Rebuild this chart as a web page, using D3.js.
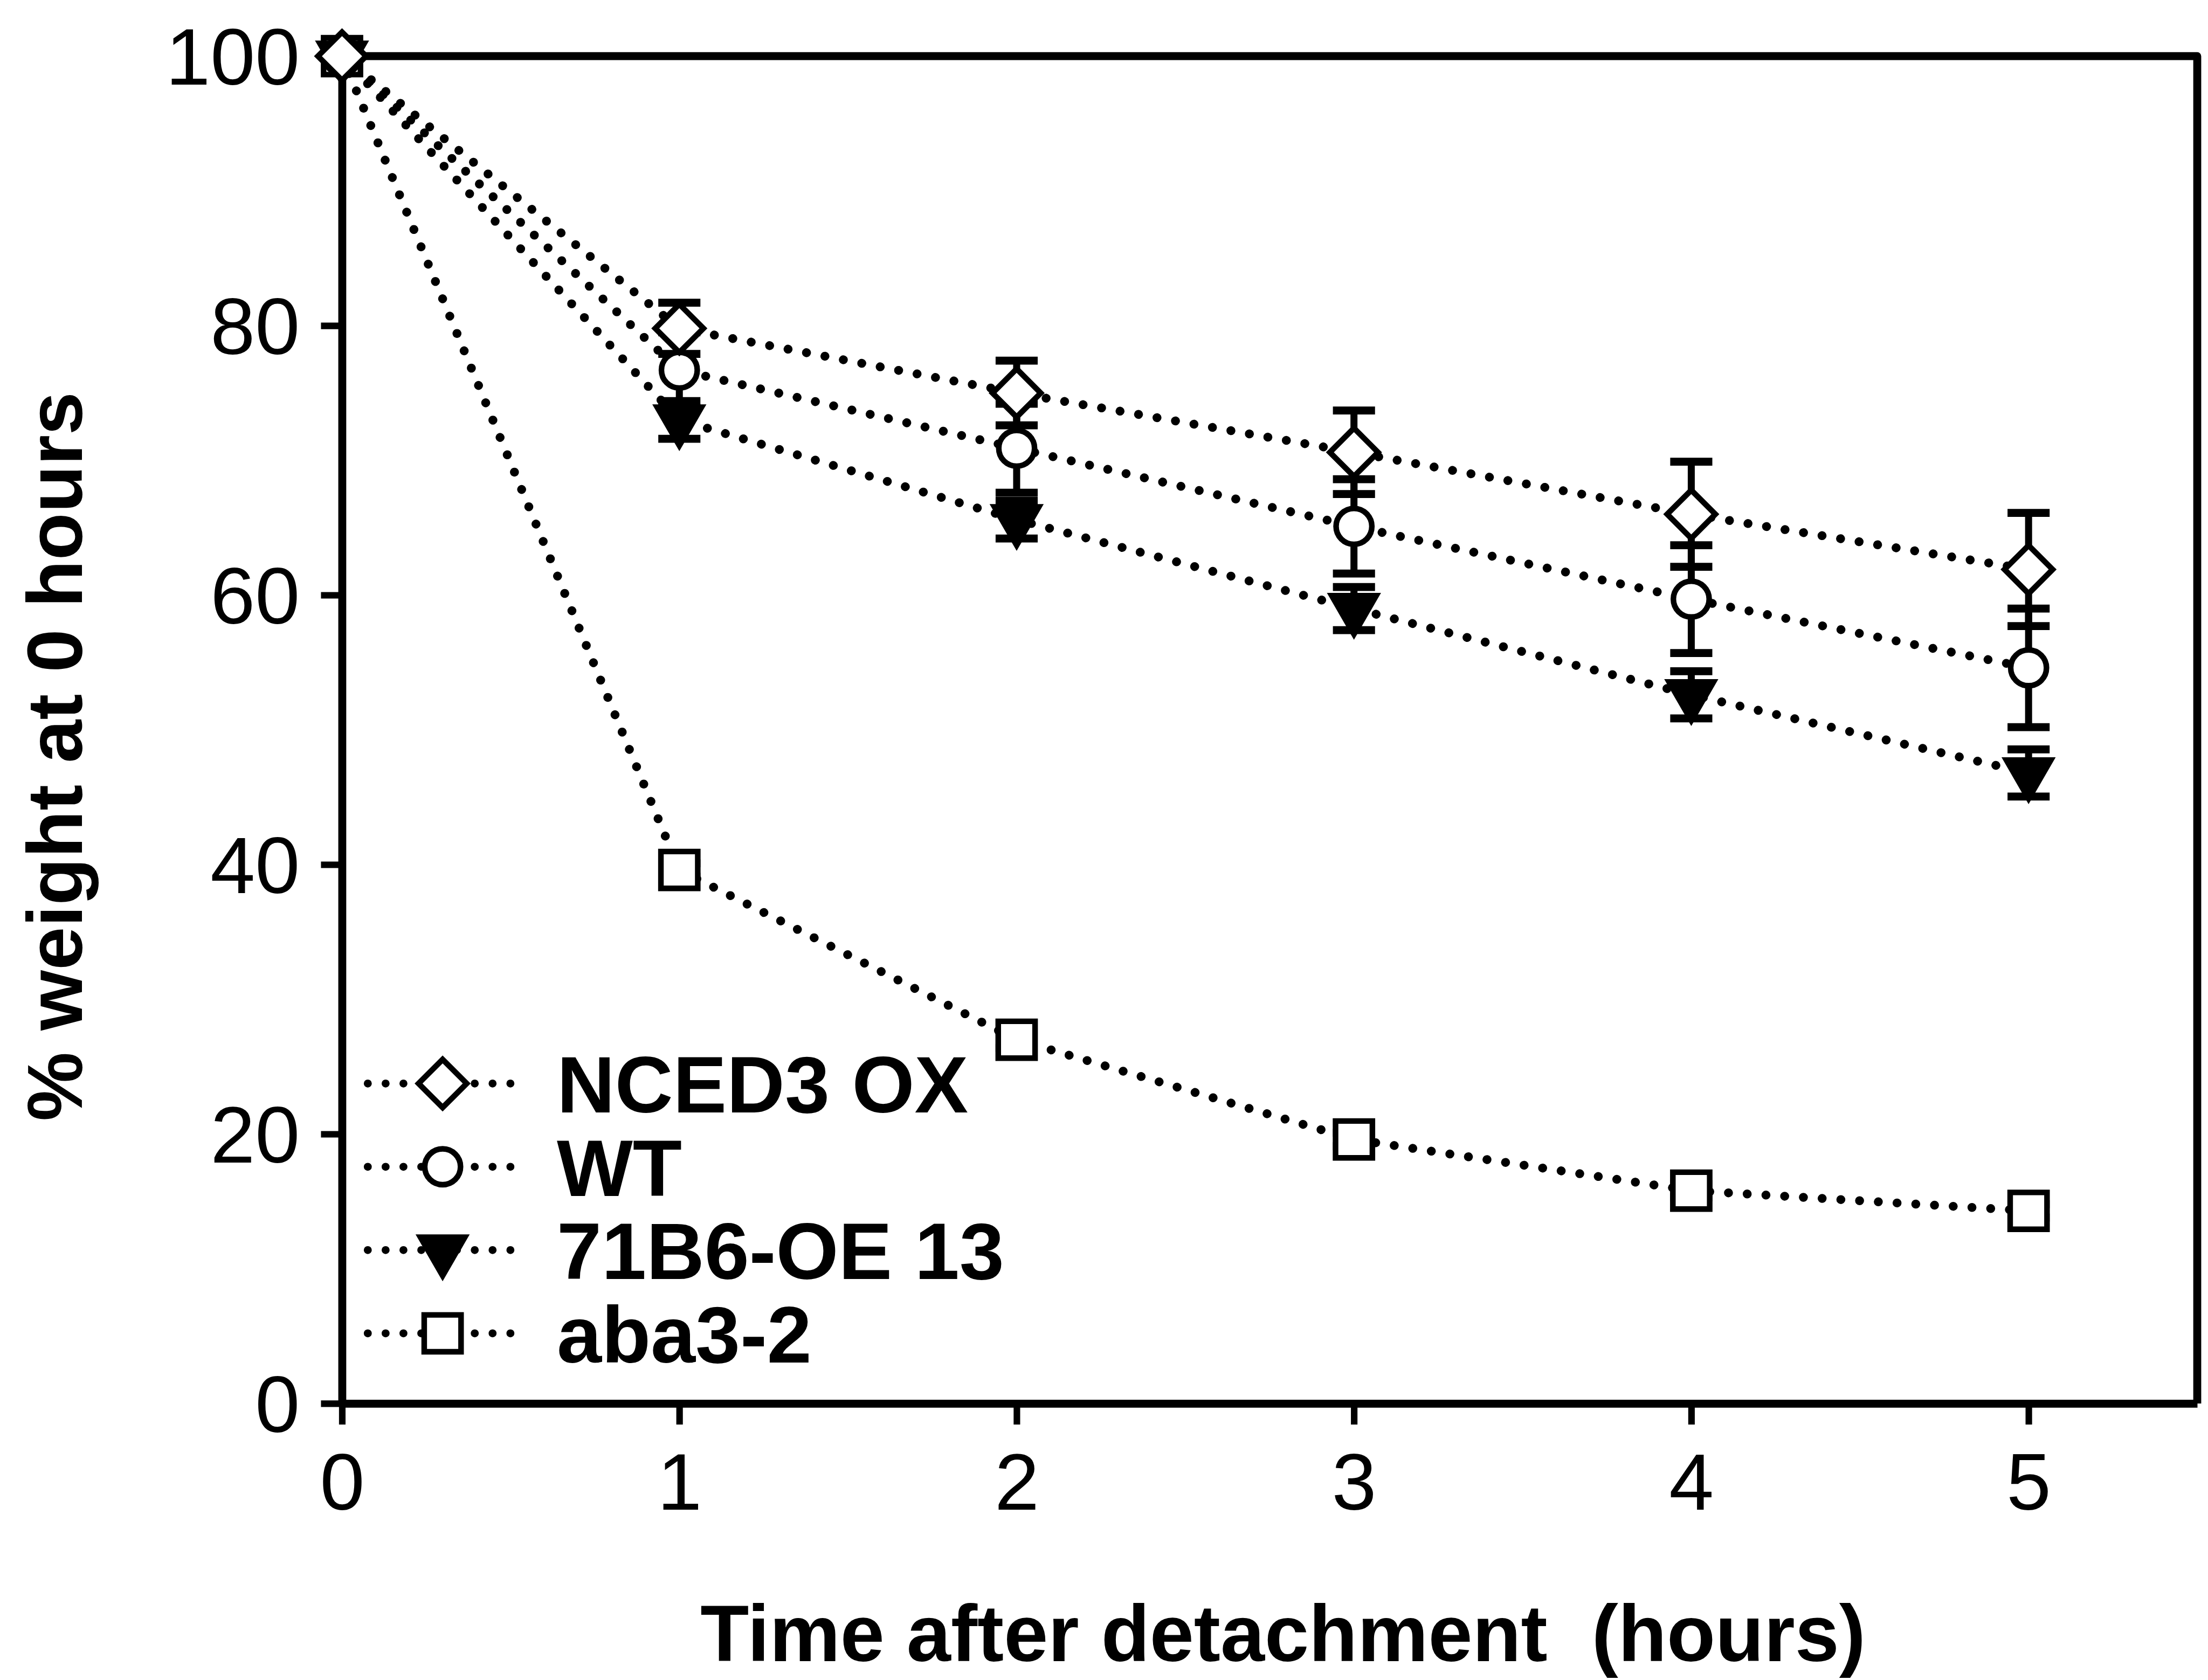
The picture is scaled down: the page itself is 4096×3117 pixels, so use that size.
<!DOCTYPE html>
<html>
<head>
<meta charset="utf-8">
<script src="https://cdn.jsdelivr.net/npm/d3@7"></script>
<style>
  html, body { margin: 0; padding: 0; background: #fff; }
  svg { display: block; }
</style>
</head>
<body>
<svg id="chart" width="4096" height="3117" viewBox="0 0 4719 3591"></svg>
<script>
// Time points (hours after detachment)
const hours = [0, 1, 2, 3, 4, 5];

// % of initial weight, mean and error for each line
const nced3Mean = [100, 79.8, 75.0, 70.6, 66.0, 61.9];
const nced3Err  = [0, 1.9, 2.4, 3.1, 3.9, 4.2];
const wtMean    = [100, 76.7, 70.9, 65.1, 59.7, 54.6];
const wtErr     = [0, 2.8, 3.3, 3.5, 4.0, 4.4];
const oe13Mean  = [100, 73.0, 65.6, 59.0, 52.6, 46.8];
const oe13Err   = [0, 1.4, 1.4, 1.6, 1.75, 1.75];
const aba3Mean  = [100, 39.6, 27.0, 19.6, 15.8, 14.3];
const aba3Err   = [0, 0.5, 0.6, 0.5, 0.5, 0.5];

const seriesNames = ["NCED3 OX", "WT", "71B6-OE 13", "aba3-2"];
const xTickValues = [0, 1, 2, 3, 4, 5];
const yTickValues = [0, 20, 40, 60, 80, 100];

const xTitle = "Time after detachment  (hours)";
const yTitle = "% weight at 0 hours";

const FONT = "'Liberation Sans', Arial, Helvetica, sans-serif";

const svg = d3.select("#chart");

const plot = { left: 731, right: 4696, top: 120, bottom: 3000 };
const x = d3.scaleLinear().domain([0, 5.5]).range([plot.left, plot.right]);
const y = d3.scaleLinear().domain([0, 100]).range([plot.bottom, plot.top]);

const AXIS_W = 17;

// Series table built from the arrays above
const series = [
  { name: seriesNames[0], mean: nced3Mean, err: nced3Err, shape: "diamond" },
  { name: seriesNames[1], mean: wtMean,    err: wtErr,    shape: "circle" },
  { name: seriesNames[2], mean: oe13Mean,  err: oe13Err,  shape: "triangleDown" },
  { name: seriesNames[3], mean: aba3Mean,  err: aba3Err,  shape: "square" }
];

// Marker generators
const shapes = {
  diamond:      { gen: d3.symbol(d3.symbolSquare, 5300), rotate: 45,  fill: "#fff" },
  circle:       { gen: d3.symbol(d3.symbolCircle, 4600), rotate: 0,   fill: "#fff" },
  triangleDown: { gen: d3.symbol(d3.symbolTriangle, 3900), rotate: 180, fill: "#000" },
  square:       { gen: d3.symbol(d3.symbolSquare, 6200), rotate: 0,   fill: "#fff" }
};

function drawMarker(g, shape, cx, cy) {
  const s = shapes[shape];
  g.append("path")
    .attr("d", s.gen())
    .attr("transform", `translate(${cx},${cy}) rotate(${s.rotate})`)
    .attr("fill", s.fill)
    .attr("stroke", "#000")
    .attr("stroke-width", 12)
    .attr("stroke-linejoin", "miter");
}

// Axes
const yAxis = d3.axisLeft(y).tickValues(yTickValues).tickSize(45).tickSizeOuter(0)
  .tickPadding(45).tickFormat(d3.format("d"));
const xAxis = d3.axisBottom(x).tickValues(xTickValues).tickSize(45).tickSizeOuter(0)
  .tickPadding(60).tickFormat(d3.format("d"));

const gy = svg.append("g").attr("transform", `translate(${plot.left},0)`).call(yAxis);
const gx = svg.append("g").attr("transform", `translate(0,${plot.bottom})`).call(xAxis);

[gx, gy].forEach(g => {
  g.select(".domain").attr("stroke", "#000").attr("stroke-width", AXIS_W);
  g.selectAll(".tick line").attr("stroke", "#000").attr("stroke-width", 14);
  g.selectAll(".tick text")
    .attr("fill", "#000")
    .attr("font-family", FONT)
    .attr("font-size", 172);
});
gy.selectAll(".tick text").attr("dy", "0.35em");
gx.selectAll(".tick text").attr("dy", "0.71em");

// Top and right frame lines
svg.append("path")
  .attr("d", `M${plot.left},${y(100)}H${x(5.5)}V${plot.bottom}`)
  .attr("fill", "none")
  .attr("stroke", "#000")
  .attr("stroke-width", AXIS_W)
  .attr("stroke-linejoin", "round");

// Dotted connecting lines
const line = d3.line().x((d, i) => x(hours[i])).y(d => y(d));
const lineG = svg.append("g");
series.slice().reverse().forEach(s => {
  lineG.append("path")
    .attr("d", line(s.mean))
    .attr("fill", "none")
    .attr("stroke", "#000")
    .attr("stroke-width", 19)
    .attr("stroke-linecap", "round")
    .attr("stroke-dasharray", "0.1 40");
});

// Error bars
const errG = svg.append("g").attr("stroke", "#000");
const CAP = 45;
series.forEach(s => {
  s.mean.forEach((m, i) => {
    const e = s.err[i];
    if (!e) return;
    const cx = x(hours[i]);
    errG.append("line").attr("x1", cx).attr("x2", cx)
      .attr("y1", y(m - e)).attr("y2", y(m + e)).attr("stroke-width", 15);
    [m - e, m + e].forEach(v => {
      errG.append("line").attr("x1", cx - CAP).attr("x2", cx + CAP)
        .attr("y1", y(v)).attr("y2", y(v)).attr("stroke-width", 17);
    });
  });
});

// Markers (diamond series last so it sits on top)
const markG = svg.append("g");
series.slice().reverse().forEach(s => {
  s.mean.forEach((m, i) => drawMarker(markG, s.shape, x(hours[i]), y(m)));
});

// Legend
const legend = svg.append("g");
const legX = { lineStart: 786, symbol: 946, lineEnd: 1107, text: 1190 };
const legY0 = 2316, legStep = 178;
series.forEach((s, k) => {
  const ly = legY0 + k * legStep;
  legend.append("line")
    .attr("x1", legX.lineStart).attr("x2", legX.lineEnd)
    .attr("y1", ly).attr("y2", ly)
    .attr("stroke", "#000").attr("stroke-width", 17)
    .attr("stroke-linecap", "round").attr("stroke-dasharray", "0.1 38");
  drawMarker(legend, s.shape, legX.symbol, ly);
  legend.append("text")
    .attr("x", legX.text).attr("y", ly).attr("dy", "0.36em")
    .attr("font-family", FONT).attr("font-weight", "bold").attr("font-size", 172)
    .text(s.name);
});

// Axis titles
svg.append("text")
  .attr("x", 2742).attr("y", 3551)
  .attr("text-anchor", "middle")
  .attr("font-family", FONT).attr("font-weight", "bold").attr("font-size", 170)
  .style("white-space", "pre")
  .text(xTitle);

svg.append("text")
  .attr("transform", "translate(175,1617) rotate(-90)")
  .attr("text-anchor", "middle")
  .attr("font-family", FONT).attr("font-weight", "bold").attr("font-size", 166)
  .text(yTitle);
</script>
</body>
</html>
